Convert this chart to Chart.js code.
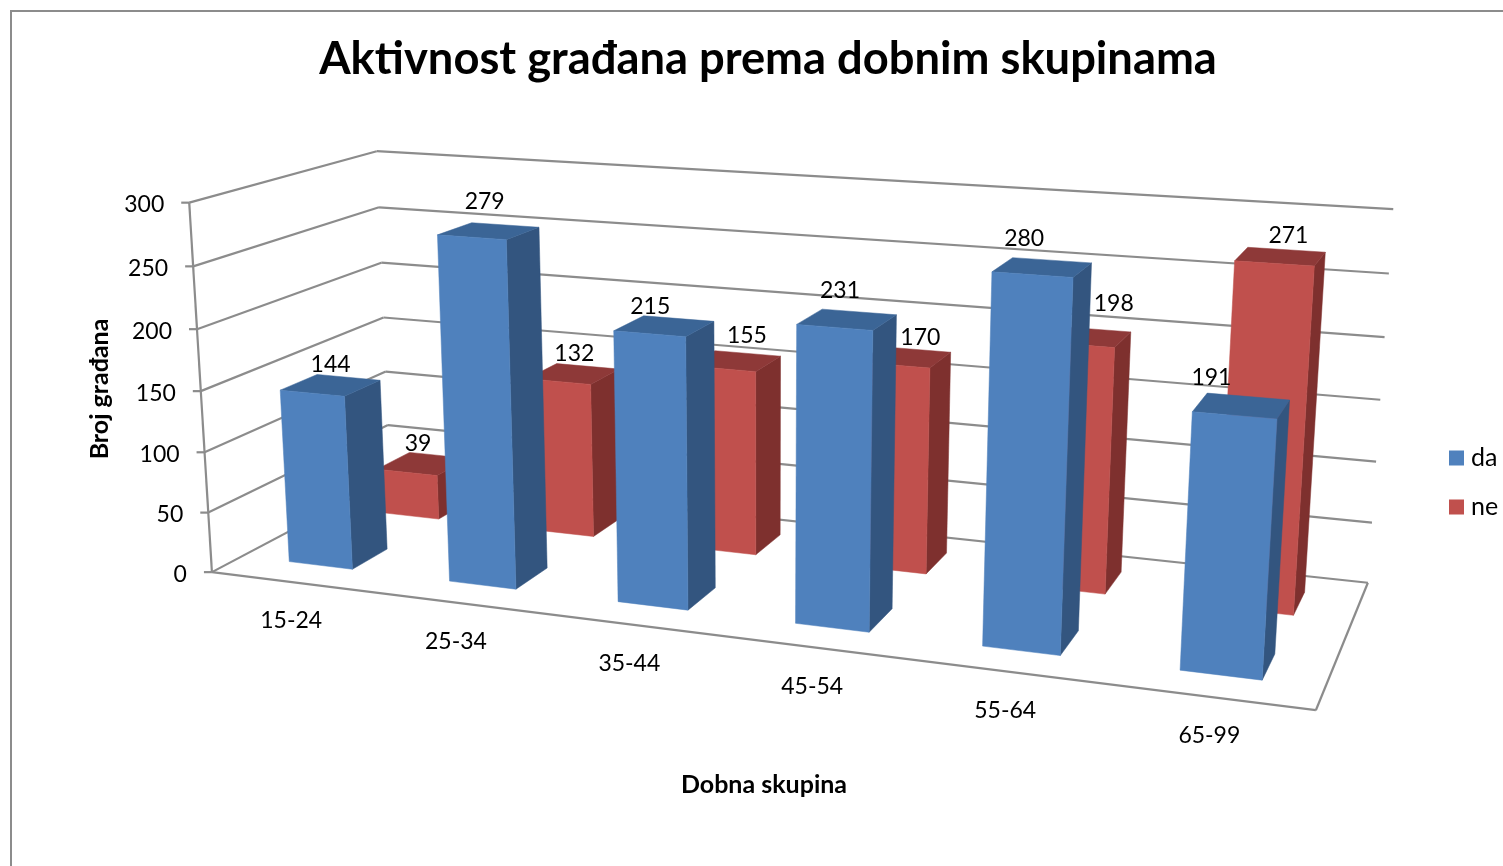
<!DOCTYPE html>
<html><head><meta charset="utf-8">
<style>html,body{margin:0;padding:0;background:#fff;overflow:hidden}canvas{display:block}</style>
<script src="https://cdn.jsdelivr.net/npm/chart.js@4/dist/chart.umd.js"></script>
</head><body><canvas id="c" width="1503" height="866"></canvas>
<script>
const categories = ['15-24','25-34','35-44','45-54','55-64','65-99'];
const da = [144,279,215,231,280,191];
const ne = [39,132,155,170,198,271];
const titleText = 'Aktivnost građana prema dobnim skupinama';
const yTitle = 'Broj građana';
const xTitle = 'Dobna skupina';
const FONT = 'Lato, Carlito, "Open Sans", sans-serif';

// Camera calibration: the plot box's (u,v,w) corners and where the picture shows them.
const box = [
 [0,0,0, 213,572],[1,0,0, 1316,710],[0,1,0, 188,203],
 [0,0,1, 389,478],[1,0,1, 1368,583],[0,1,1, 378,151],[1,1,1, 1393,209]
];
// Small placement shifts of the value labels relative to each bar's top face.
const nudgeDa = [[0,1],[-4,-7],[-14,3],[-7,-7],[-18,-7],[-30,-6]];
const nudgeNe = [[-5,2],[1,2],[12,-3],[15,2],[28,-11],[8,1]];

function solve(A,b){const n=b.length;const M=A.map((r,i)=>[...r,b[i]]);
 for(let i=0;i<n;i++){let p=i;for(let k=i+1;k<n;k++)if(Math.abs(M[k][i])>Math.abs(M[p][i]))p=k;
  [M[i],M[p]]=[M[p],M[i]];
  for(let k=0;k<n;k++){if(k===i)continue;const f=M[k][i]/M[i][i];for(let j=i;j<=n;j++)M[k][j]-=f*M[i][j];}}
 return M.map((r,i)=>r[n]/r[i]);}
const cam=(()=>{const R=[],B=[];
 for(const [u,v,w,x,y] of box){
  R.push([u,v,w,1,0,0,0,0,-x*u,-x*v,-x*w]);B.push(x);
  R.push([0,0,0,0,u,v,w,1,-y*u,-y*v,-y*w]);B.push(y);}
 const n=11,A=[],b=[];
 for(let i=0;i<n;i++){A.push([]);let s=0;
  for(let j=0;j<n;j++){let t=0;R.forEach(r=>t+=r[i]*r[j]);A[i].push(t);}
  R.forEach((r,k)=>s+=r[i]*B[k]);b.push(s);}
 return solve(A,b);})();
function P(u,v,w){const d=cam[8]*u+cam[9]*v+cam[10]*w+1;
 return [(cam[0]*u+cam[1]*v+cam[2]*w+cam[3])/d,(cam[4]*u+cam[5]*v+cam[6]*w+cam[7])/d];}

const BLUE='#4F81BD',RED='#C0504D';
const faces={
 [BLUE]:{side:'#33557F',top:'#3B6596',w1:0.155,w2:0.35,nudge:nudgeDa},
 [RED]:{side:'#7E302E',top:'#8E3938',w1:0.66,w2:0.86,nudge:nudgeNe}
};
const GRID='#8C8C8C';
let cur=null;
const norm=(el)=>{const a=cur.chartArea;return{
 u1:(el.x-el.width/2-a.left)/a.width,u2:(el.x+el.width/2-a.left)/a.width,
 v0:(a.bottom-el.base)/a.height,v1:(a.bottom-el.y)/a.height};};
function poly(ctx,pts,fill){ctx.beginPath();pts.forEach((p,i)=>i?ctx.lineTo(p[0],p[1]):ctx.moveTo(p[0],p[1]));ctx.closePath();ctx.fillStyle=fill;ctx.fill();ctx.strokeStyle=fill;ctx.lineWidth=0.5;ctx.stroke();}
Chart.BarElement.prototype.draw=function(ctx){
 const f=faces[this.options.backgroundColor];if(!cur||!f)return;
 const {u1,u2,v0,v1}=norm(this);const{w1,w2}=f;
 poly(ctx,[P(u2,v0,w1),P(u2,v0,w2),P(u2,v1,w2),P(u2,v1,w1)],f.side);
 poly(ctx,[P(u1,v1,w1),P(u2,v1,w1),P(u2,v1,w2),P(u1,v1,w2)],f.top);
 poly(ctx,[P(u1,v0,w1),P(u2,v0,w1),P(u2,v1,w1),P(u1,v1,w1)],this.options.backgroundColor);
};
function seg(ctx,a,b){ctx.beginPath();ctx.moveTo(a[0],a[1]);ctx.lineTo(b[0],b[1]);ctx.stroke();}
const scene={id:'scene',
 afterLayout(c){if(c.titleBlock){c.titleBlock.left+=39;}},
 beforeDraw(c){const x=c.ctx;x.save();x.fillStyle='#fff';x.fillRect(0,0,c.width,c.height);
  x.strokeStyle=GRID;x.lineWidth=2;x.beginPath();x.moveTo(11,866);x.lineTo(11,11);x.lineTo(1503,11);x.stroke();x.restore();},
 beforeDatasetsDraw(c){cur=c;const x=c.ctx,ys=c.scales.y;x.save();x.strokeStyle=GRID;x.lineWidth=2.2;
  const a=c.chartArea;
  ys.ticks.forEach(t=>{const v=(a.bottom-ys.getPixelForValue(t.value))/a.height;
   const A=P(0,v,0),B=P(0,v,1),C=P(1,v,1);
   seg(x,[A[0]-8,A[1]],A);seg(x,A,B);seg(x,B,C);});
  seg(x,P(0,0,0),P(0,1,0));
  seg(x,P(0,0,0),P(1,0,0));seg(x,P(1,0,0),P(1,0,1));
  x.restore();},
 afterDatasetsDraw(c){const x=c.ctx,ys=c.scales.y,xs=c.scales.x,a=c.chartArea;x.save();
  x.fillStyle='#000';x.textBaseline='middle';x.font='23px '+FONT;
  x.textAlign='right';
  ys.ticks.forEach(t=>{const v=(a.bottom-ys.getPixelForValue(t.value))/a.height;const A=P(0,v,0);
   x.fillText(String(t.value),A[0]-25,A[1]+2);});
  x.textAlign='center';
  categories.forEach((n,i)=>{const u=(xs.getPixelForValue(i)-a.left)/a.width;const p=P(u,0,0);
   x.fillText(n,p[0],p[1]+39);});
  c.data.datasets.forEach((d,di)=>{const f=faces[d.backgroundColor];const m=c.getDatasetMeta(di);
   m.data.forEach((el,i)=>{const n=norm(el);const p=P((n.u1+n.u2)/2,n.v1,(f.w1+f.w2)/2);
    x.fillText(String(d.data[i]),p[0]+f.nudge[i][0],p[1]-22+f.nudge[i][1]);});
   const ly=458+di*49;
   x.fillStyle=d.backgroundColor;x.fillRect(1449,ly-7.5,15,15);
   x.fillStyle='#000';x.textAlign='left';x.font='25px '+FONT;x.fillText(d.label,1471,ly);
   x.textAlign='center';x.font='23px '+FONT;
  });
  x.font='bold 25px '+FONT;
  x.fillText(xTitle,764,785);
  x.translate(100,389);x.rotate(-Math.PI/2);x.fillText(yTitle,0,0);
  x.restore();}
};
new Chart(document.getElementById('c'),{
 type:'bar',
 data:{labels:categories,datasets:[
  {label:'da',data:da,backgroundColor:BLUE},
  {label:'ne',data:ne,backgroundColor:RED}]},
 plugins:[scene],
 options:{responsive:false,animation:false,grouped:false,
  categoryPercentage:0.4,barPercentage:1,
  layout:{padding:{right:6}},
  plugins:{
   title:{display:true,text:titleText,color:'#000',font:{family:FONT,size:45.3,weight:'bold'},padding:{top:32,bottom:30}},
   legend:{display:false},
   tooltip:{enabled:false}},
  scales:{x:{display:false,grid:{display:false}},
   y:{display:false,min:0,max:300,ticks:{stepSize:50}}}}
});
</script></body></html>
